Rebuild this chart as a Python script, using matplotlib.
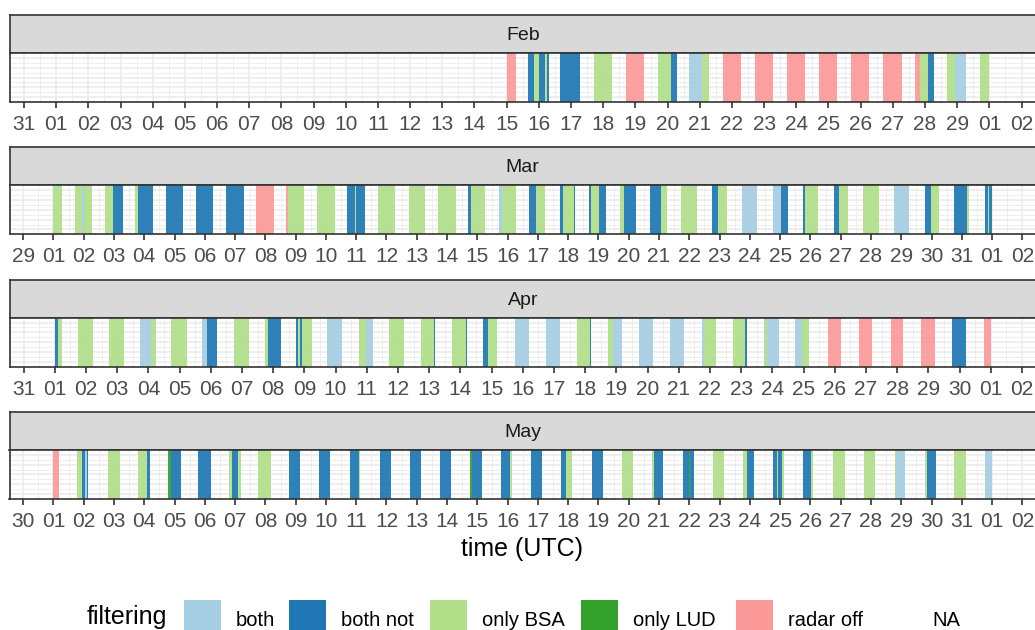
import datetime as dt

import matplotlib
matplotlib.use("Agg")
import matplotlib.pyplot as plt
import matplotlib.dates as mdates
from matplotlib.patches import Rectangle

plt.rcParams["font.family"] = ["Liberation Sans", "DejaVu Sans"]

YEAR = 2024
months = [2, 3, 4, 5]
month_names = ["Feb", "Mar", "Apr", "May"]

# filtering classes and their fill colours (NA has no fill)
categories = ["both", "both not", "only BSA", "only LUD", "radar off", "NA"]
class_codes = {"b": "both", "bn": "both not", "bsa": "only BSA",
               "lud": "only LUD", "off": "radar off"}
fill_colors = {"both": "#A6CEE3", "both not": "#1F78B4", "only BSA": "#B2DF8A",
               "only LUD": "#33A02C", "radar off": "#FB9A99", "NA": None}

# night segments per month: (start, end, class), times as day of month (UTC)
feb_segments = [
    (15.00, 15.29, "off"),
    (15.66, 15.85, "bn"), (15.85, 16.02, "bsa"), (16.02, 16.18, "bn"),
    (16.18, 16.25, "bsa"), (16.25, 16.31, "bn"),
    (16.66, 17.27, "bn"),
    (17.70, 18.27, "bsa"),
    (18.70, 19.26, "off"),
    (19.69, 20.11, "bsa"), (20.11, 20.29, "bn"),
    (20.68, 21.07, "b"), (21.07, 21.28, "bsa"),
    (21.71, 22.28, "off"),
    (22.71, 23.28, "off"),
    (23.71, 24.28, "off"),
    (24.71, 25.28, "off"),
    (25.70, 26.27, "off"),
    (26.71, 27.28, "off"),
    (27.69, 27.85, "off"), (27.85, 28.10, "bsa"), (28.10, 28.29, "bn"),
    (28.69, 28.93, "bsa"), (28.93, 29.28, "b"),
    (29.70, 30.00, "bsa"),
]

mar_segments = [
    (1.00, 1.27, "bsa"),
    (1.72, 1.93, "bsa"), (1.93, 2.02, "b"), (2.02, 2.27, "bsa"),
    (2.70, 2.98, "bsa"), (2.98, 3.29, "bn"),
    (3.70, 3.79, "bsa"), (3.79, 4.29, "bn"),
    (4.71, 5.28, "bn"),
    (5.70, 6.28, "bn"),
    (6.70, 7.30, "bn"),
    (7.70, 8.28, "off"),
    (8.68, 8.74, "off"), (8.74, 9.29, "bsa"),
    (9.71, 10.29, "bsa"),
    (10.71, 10.95, "bn"), (10.95, 11.00, "bsa"), (11.00, 11.29, "bn"),
    (11.73, 12.28, "bsa"),
    (12.73, 13.28, "bsa"),
    (13.71, 14.28, "bsa"),
    (14.70, 14.78, "bn"), (14.78, 15.25, "bsa"),
    (15.72, 15.83, "b"), (15.83, 16.27, "bsa"),
    (16.71, 16.94, "bn"), (16.94, 17.24, "bsa"),
    (17.72, 17.83, "bn"), (17.83, 18.19, "bsa"), (18.19, 18.24, "bn"),
    (18.70, 18.76, "bn"), (18.76, 19.03, "bsa"), (19.03, 19.25, "bn"),
    (19.71, 19.86, "bsa"), (19.86, 20.25, "bn"),
    (20.69, 21.08, "bn"), (21.08, 21.25, "bsa"),
    (21.72, 22.25, "bsa"),
    (22.75, 22.95, "bn"), (22.95, 23.25, "bsa"),
    (23.75, 24.25, "b"),
    (24.77, 25.02, "b"), (25.02, 25.25, "bn"),
    (25.75, 25.82, "bn"), (25.82, 26.25, "bsa"),
    (26.77, 26.94, "bn"), (26.94, 27.25, "bsa"),
    (27.75, 28.25, "bsa"),
    (28.75, 29.25, "b"),
    (29.77, 29.99, "bn"), (29.99, 30.25, "bsa"),
    (30.75, 31.17, "bn"), (31.17, 31.25, "bsa"),
    (31.75, 31.86, "bn"), (31.86, 31.89, "bsa"), (31.89, 32.00, "bn"),
]

apr_segments = [
    (1.00, 1.12, "bn"), (1.12, 1.23, "bsa"),
    (1.73, 2.23, "bsa"),
    (2.73, 3.23, "bsa"),
    (3.74, 4.07, "b"), (4.07, 4.23, "bsa"),
    (4.74, 5.23, "bsa"),
    (5.73, 5.89, "b"), (5.89, 6.21, "bn"),
    (6.75, 7.23, "bsa"),
    (7.74, 7.85, "bsa"), (7.85, 8.25, "bn"),
    (8.73, 8.81, "bn"), (8.81, 8.87, "bsa"), (8.87, 8.94, "bn"), (8.94, 9.23, "bsa"),
    (9.74, 10.21, "b"),
    (10.74, 10.98, "bsa"), (10.98, 11.19, "b"),
    (11.72, 12.21, "bsa"),
    (12.74, 13.15, "bsa"), (13.15, 13.19, "bn"),
    (13.74, 14.17, "bsa"), (14.17, 14.20, "bn"),
    (14.74, 14.90, "bn"), (14.90, 15.18, "bsa"),
    (15.74, 16.19, "b"),
    (16.74, 17.19, "b"),
    (17.74, 18.15, "bsa"), (18.15, 18.20, "bn"),
    (18.74, 18.88, "bsa"), (18.88, 19.19, "b"),
    (19.73, 20.18, "b"),
    (20.73, 21.18, "b"),
    (21.75, 21.81, "b"), (21.81, 22.20, "bsa"),
    (22.73, 23.11, "bsa"), (23.11, 23.20, "bn"),
    (23.74, 23.83, "bsa"), (23.83, 24.20, "b"),
    (24.73, 24.95, "b"), (24.95, 25.19, "bsa"),
    (25.78, 26.20, "off"),
    (26.78, 27.20, "off"),
    (27.79, 28.19, "off"),
    (28.78, 29.20, "off"),
    (29.77, 30.20, "bn"),
    (30.77, 31.00, "off"),
]

may_segments = [
    (1.00, 1.19, "off"),
    (1.79, 1.93, "bsa"), (1.93, 2.05, "bn"), (2.05, 2.10, "b"), (2.10, 2.13, "bn"),
    (2.79, 3.19, "bsa"),
    (3.80, 4.08, "bsa"), (4.08, 4.19, "bn"),
    (4.80, 4.87, "lud"), (4.87, 5.20, "bn"),
    (5.77, 6.19, "bn"),
    (6.79, 6.91, "bsa"), (6.91, 7.10, "bn"), (7.10, 7.19, "bsa"),
    (7.76, 8.19, "bsa"),
    (8.78, 9.15, "bn"),
    (9.78, 10.14, "bn"),
    (10.78, 11.08, "bn"), (11.08, 11.14, "bsa"),
    (11.77, 12.15, "bn"),
    (12.77, 13.15, "bn"),
    (13.77, 14.14, "bn"),
    (14.76, 14.84, "lud"), (14.84, 15.14, "bn"),
    (15.78, 16.09, "bn"), (16.09, 16.14, "bsa"),
    (16.78, 17.14, "bn"),
    (17.77, 17.94, "bn"), (17.94, 18.14, "bsa"),
    (18.78, 19.14, "bn"),
    (19.77, 20.13, "bsa"),
    (20.78, 20.84, "bsa"), (20.84, 21.14, "bn"),
    (21.78, 21.98, "bn"), (21.98, 22.01, "lud"), (22.01, 22.14, "bn"),
    (22.77, 23.13, "bsa"),
    (23.78, 23.90, "bsa"), (23.90, 24.14, "bn"),
    (24.78, 24.90, "bn"), (24.90, 24.94, "bsa"), (24.94, 25.07, "bn"), (25.07, 25.12, "bsa"),
    (25.76, 26.02, "bn"), (26.02, 26.09, "bsa"),
    (26.76, 27.14, "bsa"),
    (27.76, 28.14, "bsa"),
    (28.78, 28.83, "bsa"), (28.83, 29.14, "b"),
    (29.77, 29.86, "bsa"), (29.86, 30.14, "bn"),
    (30.75, 31.13, "bsa"),
    (31.76, 32.00, "b"),
]

month_segments = [feb_segments, mar_segments, apr_segments, may_segments]

# figure in pixel units
W, H = 1035, 630
fig = plt.figure(figsize=(W / 100, H / 100), dpi=100)


def box(left, top, right, bottom):
    return [left / W, 1 - bottom / H, (right - left) / W, (bottom - top) / H]


DARK = "#333333"
GRID = "#EBEBEB"
PAD = 1.45  # days of padding either side of a month

for i, (m, name, segs) in enumerate(zip(months, month_names, month_segments)):
    top = 15 + 132.3 * i
    strip = fig.add_axes(box(9.5, top, 1036, top + 38))
    ax = fig.add_axes(box(9.5, top + 38, 1036, top + 87))

    # facet strip
    strip.set_facecolor("#D9D9D9")
    strip.set_xticks([])
    strip.set_yticks([])
    for sp in strip.spines.values():
        sp.set_color(DARK)
        sp.set_linewidth(1.2)
    strip.text(0.5, 0.46, name, ha="center", va="center", fontsize=14,
               color="#1A1A1A", transform=strip.transAxes)

    start = dt.datetime(YEAR, m, 1)
    end = dt.datetime(YEAR, m + 1, 1)

    def to_num(day):
        return mdates.date2num(start + dt.timedelta(days=day - 1))

    for code, label in class_codes.items():
        xr = [(to_num(s), to_num(e) - to_num(s)) for s, e, c in segs if c == code]
        if xr:
            ax.broken_barh(xr, (0, 1), facecolors=fill_colors[label],
                           edgecolors="none", alpha=0.93, zorder=2)

    ax.set_xlim(mdates.date2num(start - dt.timedelta(days=PAD)),
                mdates.date2num(end + dt.timedelta(days=PAD)))
    ax.set_ylim(0, 1)
    ax.xaxis.set_major_locator(mdates.DayLocator())
    ax.xaxis.set_minor_locator(mdates.HourLocator(byhour=[12]))
    ax.xaxis.set_major_formatter(mdates.DateFormatter("%d"))
    ax.set_yticks([0.1, 0.3, 0.5, 0.7, 0.9])
    ax.set_yticks([0.2, 0.4, 0.6, 0.8], minor=True)

    ax.set_axisbelow(True)
    ax.grid(which="major", color=GRID, linewidth=1.1)
    ax.grid(which="minor", color=GRID, linewidth=0.6)
    ax.tick_params(axis="y", which="both", length=0, labelleft=False)
    ax.tick_params(axis="x", which="minor", length=0)
    ax.tick_params(axis="x", which="major", length=4.5, width=1.2, color=DARK,
                   labelsize=15, labelcolor="#4D4D4D", pad=5)
    for sp in ax.spines.values():
        sp.set_color(DARK)
        sp.set_linewidth(1.2)

fig.text(522 / W, 1 - 549 / H, "time (UTC)", ha="center", va="center",
         fontsize=18, color="black")

# legend along the bottom
fig.text(87 / W, 1 - 624 / H, "filtering", ha="left", va="baseline",
         fontsize=18, color="black")
key_x = [184, 289, 430, 581, 736, 880]
for x, cat in zip(key_x, categories):
    col = fill_colors[cat]
    if col is not None:
        fig.add_artist(Rectangle((x / W, 1 - 637 / H), 37 / W, 37 / H,
                                 transform=fig.transFigure, facecolor=col,
                                 edgecolor="none"))
    fig.text((x + 52) / W, 1 - 626 / H, cat, ha="left", va="baseline",
             fontsize=14.5, color="black")

fig.savefig("out.png", dpi=100)
